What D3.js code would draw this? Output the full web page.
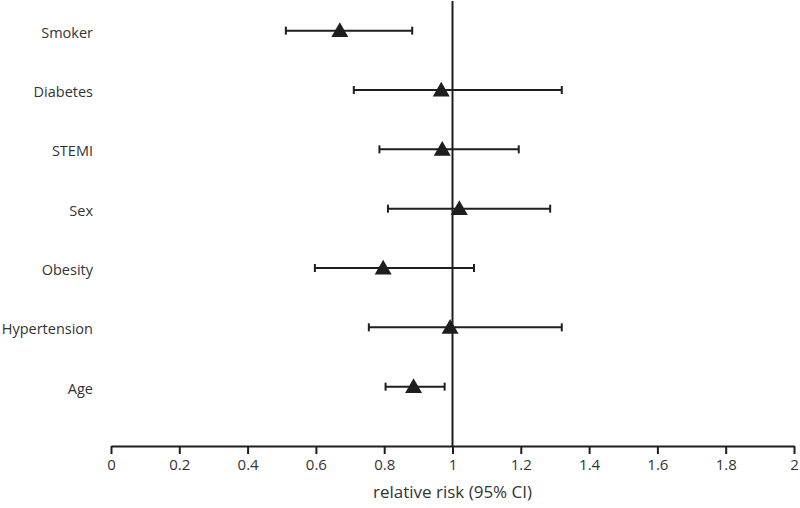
<!DOCTYPE html>
<html>
<head>
<meta charset="utf-8">
<script src="https://cdn.jsdelivr.net/npm/d3@7"></script>
<style>
  body { margin: 0; background: #fff; }
  text { font-family: "Open Sans", sans-serif; fill: #333; }
</style>
</head>
<body>
<script>
// Chart settings
const width = 800;
const height = 508;
const margin = { top: 1, right: 6, bottom: 62, left: 111 };
const ink = '#1e1e1e';

// Data (relative risk with 95% CI), top to bottom
const factors = ['Smoker', 'Diabetes', 'STEMI', 'Sex', 'Obesity', 'Hypertension', 'Age'];
const estimate = [0.67, 0.967, 0.97, 1.02, 0.797, 0.993, 0.886];
const lower    = [0.512, 0.711, 0.786, 0.811, 0.597, 0.755, 0.804];
const upper    = [0.882, 1.32, 1.194, 1.286, 1.063, 1.32, 0.977];
const xTicks = [0, 0.2, 0.4, 0.6, 0.8, 1, 1.2, 1.4, 1.6, 1.8, 2];

const rows = factors.map((name, i) => ({
  name,
  pos: factors.length - i,
  est: estimate[i],
  lo: lower[i],
  hi: upper[i]
}));

const svg = d3.select('body')
  .append('svg')
  .attr('width', width)
  .attr('height', height);

const x = d3.scaleLinear()
  .domain([0, 2])
  .range([margin.left, width - margin.right]);

const y = d3.scaleLinear()
  .domain([0, 7.5])
  .range([height - margin.bottom, margin.top]);

// Reference line at 1
svg.append('line')
  .attr('x1', x(1)).attr('x2', x(1))
  .attr('y1', y(7.5)).attr('y2', y(0))
  .attr('stroke', ink)
  .attr('stroke-width', 2);

// Bottom axis
const axis = svg.append('g')
  .attr('transform', `translate(0, ${y(0)})`)
  .call(d3.axisBottom(x).tickValues(xTicks).tickSize(8).tickSizeOuter(0).tickPadding(5)
    .tickFormat(d => d3.format('~g')(d)));
axis.select('.domain').attr('stroke', ink).attr('stroke-width', 2);
axis.selectAll('.tick line').attr('stroke', ink).attr('stroke-width', 2);
axis.selectAll('.tick text')
  .style('font-family', '"Open Sans", sans-serif')
  .style('font-size', '15px')
  .attr('fill', '#333');

svg.append('text')
  .attr('x', x(1))
  .attr('y', height - 10)
  .attr('text-anchor', 'middle')
  .style('font-size', '17px')
  .text('relative risk (95% CI)');

// Error bars
const g = svg.append('g');
g.selectAll('line.ci')
  .data(rows)
  .enter()
  .append('line')
  .attr('class', 'ci')
  .attr('x1', d => x(d.lo)).attr('x2', d => x(d.hi))
  .attr('y1', d => y(d.pos)).attr('y2', d => y(d.pos))
  .attr('stroke', ink).attr('stroke-width', 2);

['lo', 'hi'].forEach(k => {
  g.selectAll('line.cap-' + k)
    .data(rows)
    .enter()
    .append('line')
    .attr('class', 'cap-' + k)
    .attr('x1', d => x(d[k])).attr('x2', d => x(d[k]))
    .attr('y1', d => y(d.pos) - 4).attr('y2', d => y(d.pos) + 4)
    .attr('stroke', ink).attr('stroke-width', 2);
});

// Point estimates
g.selectAll('path.est')
  .data(rows)
  .enter()
  .append('path')
  .attr('class', 'est')
  .attr('d', d3.symbol(d3.symbolTriangle, 125))
  .attr('transform', d => `translate(${x(d.est)}, ${y(d.pos) + 1.5})`)
  .attr('fill', ink);

// Row labels
svg.append('g')
  .selectAll('text')
  .data(rows)
  .enter()
  .append('text')
  .attr('x', 93)
  .attr('y', d => y(d.pos) + 2)
  .attr('dy', '0.35em')
  .attr('text-anchor', 'end')
  .style('font-size', '14.5px')
  .text(d => d.name);
</script>
</body>
</html>
